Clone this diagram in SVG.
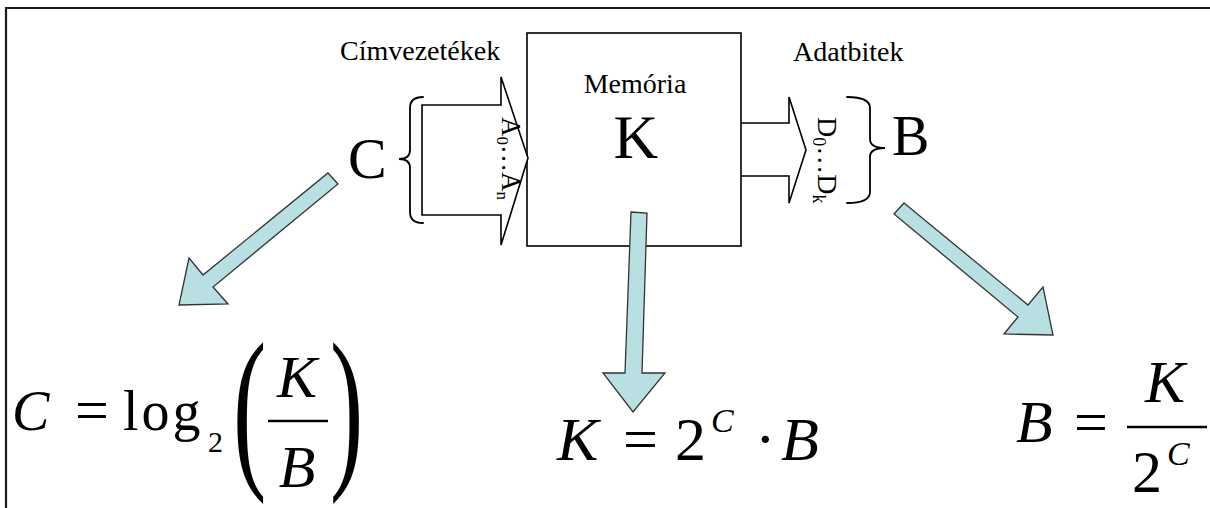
<svg xmlns="http://www.w3.org/2000/svg" width="1210" height="508" viewBox="0 0 1210 508">
<style>
.t{font-family:"Liberation Serif","Times New Roman",serif;fill:#000}
.i{font-style:italic}
.hollow{fill:#fff;stroke:#000;stroke-width:1.6;stroke-linejoin:miter}
.open{fill:none;stroke:#000;stroke-width:1.6}
.brace{fill:none;stroke:#000;stroke-width:1.8;stroke-linecap:round}
.blue{fill:#b8dfe1;stroke:#333;stroke-width:1.3;stroke-linejoin:miter}
.frame{fill:none;stroke:#1a1a1a;stroke-width:2.2}
</style>
<rect width="1210" height="508" fill="#fff"/>
<g id="frame"><path class="frame" d="M6,508 V8 H1210"/></g>

<g id="memory">
<rect x="527" y="33" width="214" height="213" fill="#fff" stroke="#000" stroke-width="1.6"/>
<text class="t" x="635" y="93" font-size="28" text-anchor="middle">Memória</text>
<text class="t" x="636" y="158" font-size="62" text-anchor="middle" text-rendering="geometricPrecision">K</text>
</g>

<g id="address">
<text class="t" x="340" y="60" font-size="28">Címvezetékek</text>
<path class="brace" d="M423,97 Q410,97 410,108 L410,150 Q410,159 399,159 Q410,159 410,168 L410,212 Q410,223 423,223"/>
<text class="t" x="348" y="178" font-size="58" font-weight="normal" font-style="normal">C</text>
</g>

<g id="data">
<text class="t" x="793" y="61" font-size="28">Adatbitek</text>
<path class="brace" d="M847,97 Q870,97 870,108 L870,139 Q870,148 885,148 Q870,148 870,157 L870,192 Q870,203 847,203"/>
<text class="t" x="892" y="155" font-size="56" letter-spacing="0.5">B</text>
</g>

<g id="connectors">
<polygon class="hollow" points="422,105 501,105 501,77 528,158 501,245 501,215 422,215"/>
<path class="open" d="M741,123 L789,123 L789,97 L806,150 L789,203 L789,176 L741,176"/>
<polygon class="blue" points="328,173 338,184 213,287 228,304 179,305 189,258 203,275"/>
<polygon class="blue" points="631,212 647,213 642,373 665,373 633,412 603,373 625,373"/>
<polygon class="blue" points="904,203 1028,305 1043,287 1053,335 1004,334 1018,317 894,214"/>
</g>

<g id="bus-labels">
<text class="t" transform="translate(502,117) rotate(90)" font-size="27">A<tspan font-size="17" dy="5">0</tspan><tspan dy="-5">…A</tspan><tspan font-size="17" dy="5">n</tspan></text>
<text class="t" transform="translate(818,117) rotate(90)" font-size="28">D<tspan font-size="18" dy="5">0</tspan><tspan dy="-5">…D</tspan><tspan font-size="18" dy="5">k</tspan></text>
</g>

<g id="formula-c">
<text class="t" y="430" font-size="56"><tspan class="i" x="12">C</tspan><tspan x="75" font-size="60">=</tspan><tspan x="123">l</tspan><tspan dx="3">o</tspan><tspan dx="3">g</tspan><tspan x="208" y="452" font-size="30">2</tspan></text>
<text class="t" transform="translate(233,466) scale(1,1.79)" font-size="100">(</text>
<text class="t" transform="translate(330,466) scale(1,1.79)" font-size="100">)</text>
<text class="t i" x="297" y="397" font-size="60" text-anchor="middle">K</text>
<line x1="268" y1="421" x2="328" y2="421" stroke="#000" stroke-width="2.5"/>
<text class="t i" x="297" y="487" font-size="60" text-anchor="middle">B</text>
</g>

<g id="formula-k">
<text class="t" y="460" font-size="62"><tspan class="i" x="557">K</tspan><tspan x="623">=</tspan><tspan x="675">2</tspan><tspan class="i" x="711" y="432" font-size="34">C</tspan><tspan x="755" y="460">·</tspan><tspan class="i" x="781">B</tspan></text>
</g>

<g id="formula-b">
<text class="t" y="442" font-size="60"><tspan class="i" x="1016">B</tspan><tspan x="1074">=</tspan></text>
<line x1="1127" y1="427" x2="1207" y2="427" stroke="#000" stroke-width="2.5"/>
<text class="t i" x="1165" y="402" font-size="60" text-anchor="middle">K</text>
<text class="t" y="492" font-size="60"><tspan x="1132">2</tspan><tspan class="i" x="1167" y="465" font-size="34">C</tspan></text>
</g>
</svg>
